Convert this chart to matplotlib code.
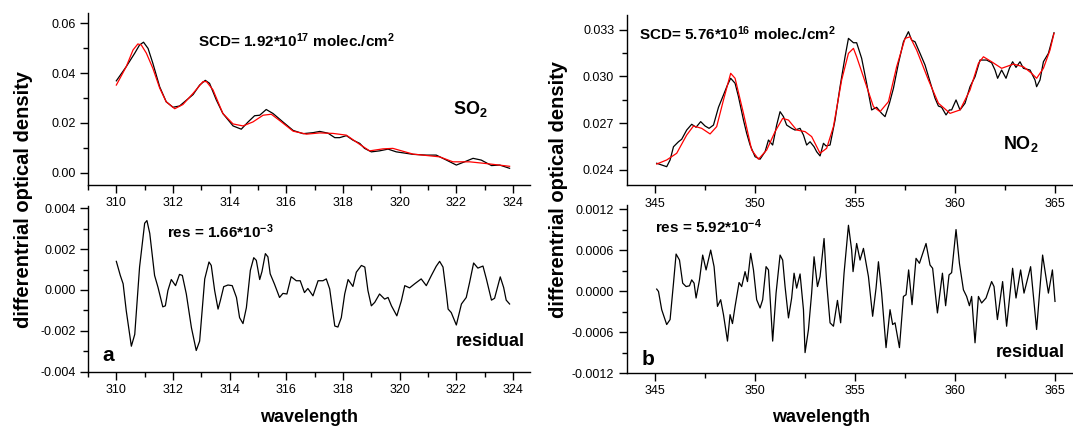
import numpy as np
import matplotlib
matplotlib.use("Agg")
import matplotlib.pyplot as plt
from matplotlib.ticker import MultipleLocator, FormatStrFormatter

plt.rcParams['font.family'] = ['Liberation Sans', 'DejaVu Sans']
plt.rcParams['axes.unicode_minus'] = False
plt.rcParams['mathtext.fontset'] = 'custom'
plt.rcParams['mathtext.rm'] = 'Liberation Sans:bold'
plt.rcParams['mathtext.bf'] = 'Liberation Sans:bold'
plt.rcParams['mathtext.default'] = 'bf'

# ---------------- SO2 (panel a) ----------------
so2_wl = [310.0, 310.35, 310.65, 310.82, 310.96, 311.12, 311.29, 311.53, 311.76, 312.0,
          312.23, 312.47, 312.71, 312.94, 313.14, 313.29, 313.53, 313.76, 314.12, 314.41,
          314.65, 314.88, 315.06, 315.29, 315.53, 315.88, 316.24, 316.59, 316.94, 317.18,
          317.47, 317.71, 317.88, 318.12, 318.35, 318.59, 318.76, 319.0, 319.29, 319.59,
          319.88, 320.24, 320.47, 320.94, 321.29, 321.65, 322.0, 322.29, 322.59, 322.88,
          323.24, 323.53, 323.88]
so2_meas = [0.0369, 0.0426, 0.0480, 0.0513, 0.0524, 0.0499, 0.0439, 0.0345, 0.0285, 0.0263,
            0.0268, 0.0291, 0.0314, 0.0352, 0.0371, 0.0359, 0.0292, 0.0238, 0.0188, 0.0175,
            0.0204, 0.0229, 0.0231, 0.0254, 0.0238, 0.0204, 0.0170, 0.0157, 0.0161, 0.0166,
            0.0159, 0.0141, 0.0141, 0.0149, 0.0131, 0.0118, 0.0098, 0.0084, 0.0088, 0.0095,
            0.0084, 0.0078, 0.0074, 0.0071, 0.0071, 0.0051, 0.0031, 0.0044, 0.0058, 0.0051,
            0.0029, 0.0031, 0.0018]

so2_fit_wl = [310.0, 310.35, 310.59, 310.76, 310.88, 311.06, 311.29, 311.53, 311.76, 312.06,
              312.35, 312.71, 313.06, 313.18, 313.41, 313.76, 314.12, 314.47, 314.82, 315.18,
              315.47, 315.76, 316.24, 316.71, 317.18, 317.65, 318.12, 318.59, 318.94, 319.41,
              319.76, 320.47, 321.41, 321.88, 322.47, 323.06, 323.88]
so2_fit = [0.0352, 0.0426, 0.0493, 0.0517, 0.0513, 0.0480, 0.0419, 0.0340, 0.0285, 0.0257,
           0.0274, 0.0319, 0.0366, 0.0366, 0.0333, 0.0238, 0.0196, 0.0188, 0.0204, 0.0231,
           0.0235, 0.0210, 0.0167, 0.0155, 0.0160, 0.0158, 0.0151, 0.0114, 0.0088, 0.0096,
           0.0098, 0.0075, 0.0064, 0.0044, 0.0044, 0.0037, 0.0026]

so2_res_wl = [310.0, 310.14, 310.24, 310.35, 310.53, 310.65, 310.82, 311.0, 311.08, 311.18,
              311.35, 311.47, 311.64, 311.73, 311.82, 311.94, 312.09, 312.23, 312.33, 312.47,
              312.65, 312.82, 312.94, 313.12, 313.27, 313.35, 313.47, 313.59, 313.67, 313.79,
              313.94, 314.09, 314.24, 314.35, 314.47, 314.59, 314.73, 314.85, 314.94, 315.06,
              315.14, 315.26, 315.35, 315.43, 315.58, 315.76, 315.88, 316.02, 316.17, 316.35,
              316.49, 316.64, 316.76, 316.94, 317.12, 317.29, 317.41, 317.53, 317.71, 317.82,
              317.94, 318.06, 318.18, 318.35, 318.47, 318.65, 318.77, 318.88, 319.0, 319.12,
              319.29, 319.47, 319.59, 319.71, 319.9, 320.06, 320.18, 320.35, 320.53, 320.76,
              320.94, 321.12, 321.29, 321.41, 321.53, 321.65, 321.71, 321.82, 322.0, 322.18,
              322.35, 322.47, 322.61, 322.76, 322.94, 323.06, 323.24, 323.35, 323.55, 323.67,
              323.76, 323.88]
# residual in units of 1e-3
so2_res = [1.40, 0.71, 0.30, -1.02, -2.76, -2.18, 1.12, 3.27, 3.40, 2.77,
           0.71, 0.13, -0.83, -0.78, -0.03, 0.51, 0.21, 0.76, 0.71, -0.20,
           -1.85, -2.97, -2.51, 0.54, 1.37, 1.20, -0.03, -0.94, -0.53, 0.16,
           0.24, 0.21, -0.37, -1.36, -1.65, -0.87, 0.96, 1.58, 1.45, 0.51,
           0.90, 1.78, 1.62, 0.79, 0.29, -0.37, -0.17, -0.20, 0.65, 0.45,
           0.45, -0.13, 0.07, -0.29, 0.45, 0.45, 0.54, 0.05, -1.77, -1.82,
           -1.36, -0.20, 0.51, 0.17, 0.87, 1.20, 1.12, -0.03, -0.78, -0.61,
           -0.20, -0.45, -0.37, -0.78, -1.27, -0.53, 0.21, 0.10, 0.30, 0.54,
           0.21, 0.71, 1.16, 1.40, 1.12, -0.20, -0.94, -1.11, -1.72, -0.69,
           -0.37, 0.38, 1.32, 1.07, 1.17, 0.54, -0.50, -0.41, 0.64, 0.12,
           -0.50, -0.69]

# ---------------- NO2 (panel b) ----------------
no2_wl = [345.08, 345.33, 345.58, 345.75, 345.92, 346.17, 346.33, 346.58, 346.83, 347.05,
          347.28, 347.5, 347.7, 347.92, 348.17, 348.42, 348.62, 348.78, 349.0, 349.17,
          349.42, 349.58, 349.75, 350.0, 350.25, 350.5, 350.67, 350.88, 351.08, 351.25,
          351.42, 351.58, 351.83, 352.0, 352.25, 352.42, 352.58, 352.75, 352.95, 353.08,
          353.25, 353.42, 353.55, 353.75, 354.0, 354.25, 354.5, 354.67, 354.92, 355.08,
          355.33, 355.58, 355.83, 356.08, 356.33, 356.5, 356.72, 356.92, 357.17, 357.42,
          357.67, 357.83, 358.0, 358.25, 358.5, 358.75, 359.0, 359.17, 359.33, 359.55,
          359.72, 359.83, 360.05, 360.25, 360.5, 360.75, 361.0, 361.25, 361.58, 361.83,
          362.0, 362.13, 362.33, 362.55, 362.72, 362.88, 363.05, 363.25, 363.42, 363.75,
          364.0, 364.08, 364.25, 364.42, 364.67, 364.95]
no2_meas = [0.02443, 0.02432, 0.02421, 0.02464, 0.02549, 0.02581, 0.02597, 0.02656, 0.02693, 0.02674,
            0.02710, 0.02682, 0.02667, 0.02688, 0.02802, 0.02881, 0.02945, 0.02988, 0.02956, 0.02870,
            0.02720, 0.02635, 0.02560, 0.02485, 0.02469, 0.02517, 0.02592, 0.02560, 0.02688, 0.02774,
            0.02742, 0.02688, 0.02667, 0.02656, 0.02667, 0.02624, 0.02560, 0.02581, 0.02549, 0.02517,
            0.02490, 0.02571, 0.02554, 0.02560, 0.02720, 0.02934, 0.03126, 0.03244, 0.03216, 0.03216,
            0.03116, 0.02956, 0.02785, 0.02802, 0.02763, 0.02742, 0.02828, 0.02924, 0.03084, 0.03222,
            0.03287, 0.03233, 0.03222, 0.03148, 0.03073, 0.02966, 0.02860, 0.02810, 0.02802, 0.02753,
            0.02785, 0.02785, 0.02849, 0.02785, 0.02828, 0.02934, 0.02998, 0.03105, 0.03105, 0.03088,
            0.03041, 0.02988, 0.03041, 0.02988, 0.03052, 0.03094, 0.03058, 0.03094, 0.03052, 0.03041,
            0.02977, 0.02934, 0.02977, 0.03094, 0.03148, 0.03280]

no2_fit_wl = [345.08, 345.58, 346.08, 346.58, 346.92, 347.33, 347.75, 348.08, 348.42, 348.78,
              349.0, 349.42, 349.83, 350.17, 350.58, 351.0, 351.38, 351.67, 352.08, 352.5,
              352.83, 353.25, 353.58, 353.92, 354.33, 354.67, 354.92, 355.08, 355.5, 355.92,
              356.25, 356.67, 357.08, 357.5, 357.75, 358.08, 358.67, 359.17, 359.75, 360.25,
              360.75, 361.17, 361.42, 361.83, 362.33, 362.92, 363.42, 363.83, 364.08, 364.42,
              364.75, 364.95]
no2_fit = [0.02438, 0.02464, 0.02507, 0.02624, 0.02682, 0.02667, 0.02631, 0.02678, 0.02849, 0.03020,
           0.02988, 0.02763, 0.02528, 0.02469, 0.02528, 0.02646, 0.02731, 0.02720, 0.02656, 0.02646,
           0.02614, 0.02507, 0.02539, 0.02678, 0.02977, 0.03148, 0.03180, 0.03126, 0.02966, 0.02806,
           0.02774, 0.02838, 0.03062, 0.03244, 0.03254, 0.03169, 0.02977, 0.02828, 0.02763, 0.02785,
           0.02913, 0.03084, 0.03126, 0.03094, 0.03052, 0.03079, 0.03062, 0.03020, 0.02988, 0.03052,
           0.03169, 0.03276]

no2_res_wl = [345.08, 345.17, 345.33, 345.58, 345.75, 345.92, 346.05, 346.22, 346.38, 346.55,
              346.72, 346.83, 346.95, 347.05, 347.22, 347.38, 347.55, 347.78, 347.95, 348.12,
              348.28, 348.42, 348.62, 348.75, 348.87, 349.0, 349.2, 349.33, 349.5, 349.62,
              349.78, 349.92, 350.08, 350.25, 350.38, 350.55, 350.67, 350.88, 351.05, 351.25,
              351.38, 351.5, 351.67, 351.83, 351.95, 352.08, 352.25, 352.42, 352.5, 352.67,
              352.83, 352.95, 353.12, 353.25, 353.45, 353.58, 353.75, 353.92, 354.12, 354.28,
              354.45, 354.67, 354.83, 354.9, 355.08, 355.25, 355.42, 355.67, 355.88, 356.05,
              356.17, 356.33, 356.55, 356.75, 356.88, 357.0, 357.22, 357.42, 357.55, 357.68,
              357.85, 358.05, 358.22, 358.55, 358.75, 358.88, 359.12, 359.37, 359.53, 359.7,
              359.83, 360.05, 360.22, 360.42, 360.58, 360.72, 360.83, 361.0, 361.17, 361.33,
              361.55, 361.83, 361.95, 362.12, 362.38, 362.58, 362.88, 363.05, 363.28, 363.45,
              363.78, 364.08, 364.38, 364.67, 364.87, 365.0]
# residual in units of 1e-4
no2_res = [0.31, -0.04, -2.71, -4.89, -4.16, 1.18, 5.45, 4.57, 1.18, 0.68,
           0.79, 1.66, 1.18, -1.00, 1.66, 5.30, 3.12, 6.03, 3.60, -2.23,
           -1.25, -3.44, -7.32, -3.44, -4.75, -2.23, 1.27, 0.68, 2.87, 1.41,
           5.55, 3.12, -1.25, -2.46, -1.25, 3.60, 3.12, -7.32, -0.28, 5.30,
           4.57, 0.68, -3.92, -1.00, 2.64, 0.45, 2.53, -2.71, -9.01, -5.62,
           -0.28, 5.05, 0.68, 2.14, 7.73, 1.18, -4.64, -5.14, -1.35, -4.64,
           2.64, 9.67, 6.03, 2.87, 7.00, 4.57, 6.28, 2.14, -3.68, 0.45,
           4.32, -0.28, -8.28, -2.71, -4.89, -4.64, -8.28, -0.77, -0.52, 3.12,
           -1.98, 4.82, 4.09, 7.00, 3.84, 3.36, -3.19, 2.64, -2.13, 2.39,
           2.72, 9.04, 4.09, 0.20, -0.77, -2.13, -0.77, -7.57, -0.77, -1.73,
           -1.00, 1.41, 0.68, -4.16, 1.41, -5.14, 3.36, -1.00, 3.12, -0.28,
           3.60, -5.62, 5.30, -0.28, 3.12, -1.50]

so2_res = np.array(so2_res) * 1e-3
no2_res = np.array(no2_res) * 1e-4

W, H = 1073, 426
fig = plt.figure(figsize=(W / 100, H / 100), dpi=100)


def box(x0, y0, x1, y1):
    # pixel box (top-left origin) -> figure fraction rect
    return [x0 / W, 1 - y1 / H, (x1 - x0) / W, (y1 - y0) / H]


def style(ax, xmaj, xmin, ymaj, ymin, yfmt):
    ax.patch.set_visible(False)  # keep tick labels of the panel above visible
    for s in ['top', 'right']:
        ax.spines[s].set_visible(False)
    for s in ['left', 'bottom']:
        ax.spines[s].set_linewidth(1.0)
    ax.xaxis.set_major_locator(MultipleLocator(xmaj))
    ax.xaxis.set_minor_locator(MultipleLocator(xmin))
    ax.yaxis.set_major_locator(MultipleLocator(ymaj))
    ax.yaxis.set_minor_locator(MultipleLocator(ymin))
    ax.yaxis.set_major_formatter(FormatStrFormatter(yfmt))
    ax.tick_params(which='major', direction='out', length=6, width=1.0, labelsize=9, pad=3)
    ax.tick_params(which='minor', direction='out', length=3.5, width=1.0)


ax1 = fig.add_axes(box(88, 13.3, 530, 185))
ax1.plot(so2_wl, so2_meas, color='black', lw=0.9)
ax1.plot(so2_fit_wl, so2_fit, color='red', lw=0.9)
ax1.set_xlim(309, 324.6)
ax1.set_ylim(-0.0049, 0.064)
style(ax1, 2, 1, 0.02, 0.01, '%.2f')

ax2 = fig.add_axes(box(88, 206.3, 530, 371.5))
ax2.plot(so2_res_wl, so2_res, color='black', lw=0.9)
ax2.set_xlim(309, 324.6)
ax2.set_ylim(-0.004, 0.0041)
style(ax2, 2, 1, 0.002, 0.001, '%.3f')

ax3 = fig.add_axes(box(626.7, 15.3, 1072, 185.4))
ax3.plot(no2_wl, no2_meas, color='black', lw=0.9)
ax3.plot(no2_fit_wl, no2_fit, color='red', lw=0.9)
ax3.set_xlim(343.58, 365.85)
ax3.set_ylim(0.02301, 0.03392)
style(ax3, 5, 2.5, 0.003, 0.0015, '%.3f')

ax4 = fig.add_axes(box(626.7, 205.3, 1072, 373))
ax4.plot(no2_res_wl, no2_res, color='black', lw=0.9)
ax4.set_xlim(343.58, 365.85)
ax4.set_ylim(-0.0012, 0.00126)
style(ax4, 5, 2.5, 0.0006, 0.0003, '%.4f')


def label(x, y, s, size, **kw):
    fig.text(x / W, 1 - y / H, s, fontsize=size, fontweight='bold', **kw)


label(198, 46.7, r'SCD= 1.92*10$^{17}$ molec./cm$^{2}$', 11, va='baseline')
label(453, 114.3, r'SO$_{2}$', 13, va='baseline')
label(167, 238, r'res = 1.66*10$^{-3}$', 11, va='baseline')
label(102, 360.7, 'a', 15, va='baseline')
label(455.7, 345.7, 'residual', 13, va='baseline')

label(638.6, 40, r'SCD= 5.76*10$^{16}$ molec./cm$^{2}$', 11, va='baseline')
label(1003, 149.3, r'NO$_{2}$', 13, va='baseline')
label(655, 233.3, r'res = 5.92*10$^{-4}$', 11, va='baseline')
label(641.7, 365, 'b', 15, va='baseline')
label(995.7, 357.3, 'residual', 13, va='baseline')

label(24, 199, 'differentrial optical density', 14.5, rotation=90, ha='center', va='center')
label(558, 190, 'differentrial optical density', 14.5, rotation=90, ha='center', va='center')
label(309, 417, 'wavelength', 13, ha='center', va='center')
label(821, 417, 'wavelength', 13, ha='center', va='center')

fig.savefig('out.png', dpi=100)
